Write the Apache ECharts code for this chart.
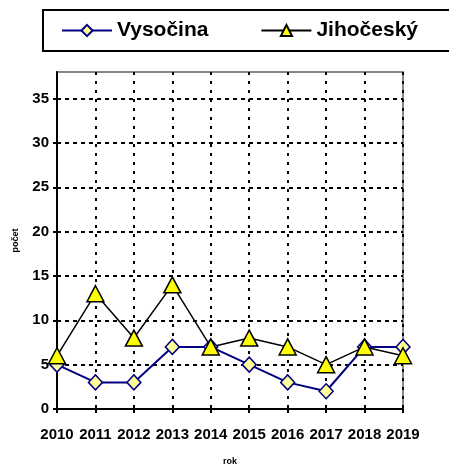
<!DOCTYPE html>
<html>
<head>
<meta charset="utf-8">
<script src="https://cdn.jsdelivr.net/npm/echarts@6/dist/echarts.min.js"></script>
<style>
  html, body { margin: 0; padding: 0; background: #fff; }
  #chart { width: 449px; height: 466px; }
</style>
</head>
<body>
<div id="chart"></div>
<script>
var years = ['2010', '2011', '2012', '2013', '2014', '2015', '2016', '2017', '2018', '2019'];
var vysocina = [5, 3, 3, 7, 7, 5, 3, 2, 7, 7];
var jihocesky = [6, 13, 8, 14, 7, 8, 7, 5, 7, 6];

var font = "'Liberation Sans', Arial, sans-serif";

var chart = echarts.init(document.getElementById('chart'));
chart.setOption({
  backgroundColor: '#fff',
  animation: false,
  legend: {
    orient: 'horizontal',
    left: 43,
    top: 10,
    width: 380,
    padding: [10, 40, 10, 18],
    borderColor: '#000',
    borderWidth: 2,
    itemWidth: 50,
    itemHeight: 14,
    itemGap: 52,
    data: ['Vysočina', 'Jihočeský'],
    textStyle: {fontFamily: font, fontSize: 21, fontWeight: 'bold', color: '#000'}
  },
  grid: {
    left: 57,
    right: 46,
    top: 72,
    bottom: 57,
    outerBoundsMode: 'none',
    show: true,
    borderColor: '#888',
    borderWidth: 2
  },
  xAxis: {
    type: 'category',
    data: years,
    boundaryGap: false,
    name: 'rok',
    nameLocation: 'middle',
    nameGap: 48,
    nameTextStyle: {fontFamily: font, fontSize: 9, fontWeight: 'bold', color: '#000'},
    axisLine: {lineStyle: {color: '#000', width: 2}},
    axisTick: {length: 4, interval: 0, lineStyle: {color: '#000', width: 2}},
    axisLabel: {interval: 0, fontFamily: font, fontSize: 15, fontWeight: 'bold', color: '#000', margin: 18},
    splitLine: {show: true, interval: 0, lineStyle: {color: '#000', width: 2, type: [3, 6]}}
  },
  yAxis: {
    type: 'value',
    min: 0,
    max: 38,
    interval: 5,
    name: 'počet',
    nameLocation: 'middle',
    nameGap: 37,
    nameTextStyle: {fontFamily: font, fontSize: 9, fontWeight: 'bold', color: '#000'},
    axisLine: {show: true, lineStyle: {color: '#000', width: 2}},
    axisTick: {show: true, length: 4, lineStyle: {color: '#000', width: 2}},
    axisLabel: {fontFamily: font, fontSize: 15, fontWeight: 'bold', color: '#000', margin: 8, showMaxLabel: false},
    splitLine: {show: true, showMaxLine: false, lineStyle: {color: '#000', width: 2, type: [4, 4]}}
  },
  series: [
    {
      name: 'Vysočina',
      type: 'line',
      data: vysocina,
      symbol: 'diamond',
      symbolSize: [14, 15],
      lineStyle: {color: '#000080', width: 2},
      itemStyle: {color: '#FFFF99', borderColor: '#000080', borderWidth: 1.5}
    },
    {
      name: 'Jihočeský',
      type: 'line',
      data: jihocesky,
      symbol: 'triangle',
      symbolSize: [17, 16],
      lineStyle: {color: '#000', width: 1.5},
      itemStyle: {color: '#FFFF00', borderColor: '#000', borderWidth: 1.5}
    }
  ]
});
</script>
</body>
</html>
